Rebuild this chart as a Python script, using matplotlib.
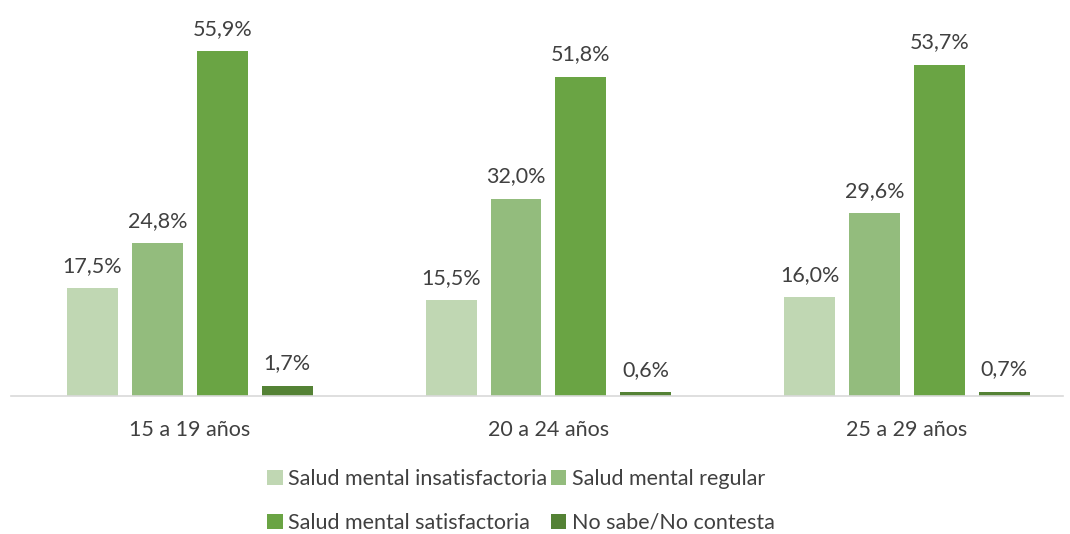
import matplotlib
matplotlib.use("Agg")
import matplotlib.pyplot as plt
import numpy as np

categories = ["15 a 19 años", "20 a 24 años", "25 a 29 años"]
series_names = ["Salud mental insatisfactoria", "Salud mental regular",
                "Salud mental satisfactoria", "No sabe/No contesta"]
insatisfactoria = [17.5, 15.5, 16.0]
regular = [24.8, 32.0, 29.6]
satisfactoria = [55.9, 51.8, 53.7]
no_sabe = [1.7, 0.6, 0.7]
series = [insatisfactoria, regular, satisfactoria, no_sabe]
colors = ["#C0D7B3", "#93BC7D", "#6AA444", "#548235"]

plt.rcParams['font.family'] = ['Lato', 'DejaVu Sans']
text_color = "#404040"
fs = 15.5

fig = plt.figure(figsize=(10.70, 5.34), dpi=100)
W, H = 1070, 534
ax = fig.add_axes([11 / W, (H - 396) / H, (1063 - 11) / W, (396 - 26) / H])

x = np.arange(len(categories))
spacing = 0.181
width = 0.142
for i, (vals, name, c) in enumerate(zip(series, series_names, colors)):
    pos = x + (i - 1.5) * spacing
    bars = ax.bar(pos, vals, width=width, color=c, label=name)
    for b, v in zip(bars, vals):
        ax.text(b.get_x() + b.get_width() / 2, v + 2.0, f"{v:.1f}%".replace(".", ","),
                ha="center", va="bottom", fontsize=fs, color=text_color)

ax.set_ylim(0, 60)
ax.set_xlim(-0.499, 2.435)
ax.set_xticks(x)
ax.set_xticklabels(categories, fontsize=fs, color=text_color)
ax.tick_params(axis="x", length=0, pad=17)
ax.set_yticks([])
for s in ["top", "right", "left"]:
    ax.spines[s].set_visible(False)
ax.spines["bottom"].set_color("#D9D9D9")
ax.spines["bottom"].set_linewidth(1.2)

handles, labels = ax.get_legend_handles_labels()
order = [0, 2, 1, 3]
leg = fig.legend([handles[i] for i in order], [labels[i] for i in order], ncol=2,
                 loc="center", bbox_to_anchor=(0.487, (H - 501) / H),
                 frameon=False, fontsize=fs, handlelength=0.7, handleheight=0.7,
                 handletextpad=0.25, columnspacing=0.2, labelspacing=1.1)
for t in leg.get_texts():
    t.set_color(text_color)

fig.savefig("out.png", dpi=100)
